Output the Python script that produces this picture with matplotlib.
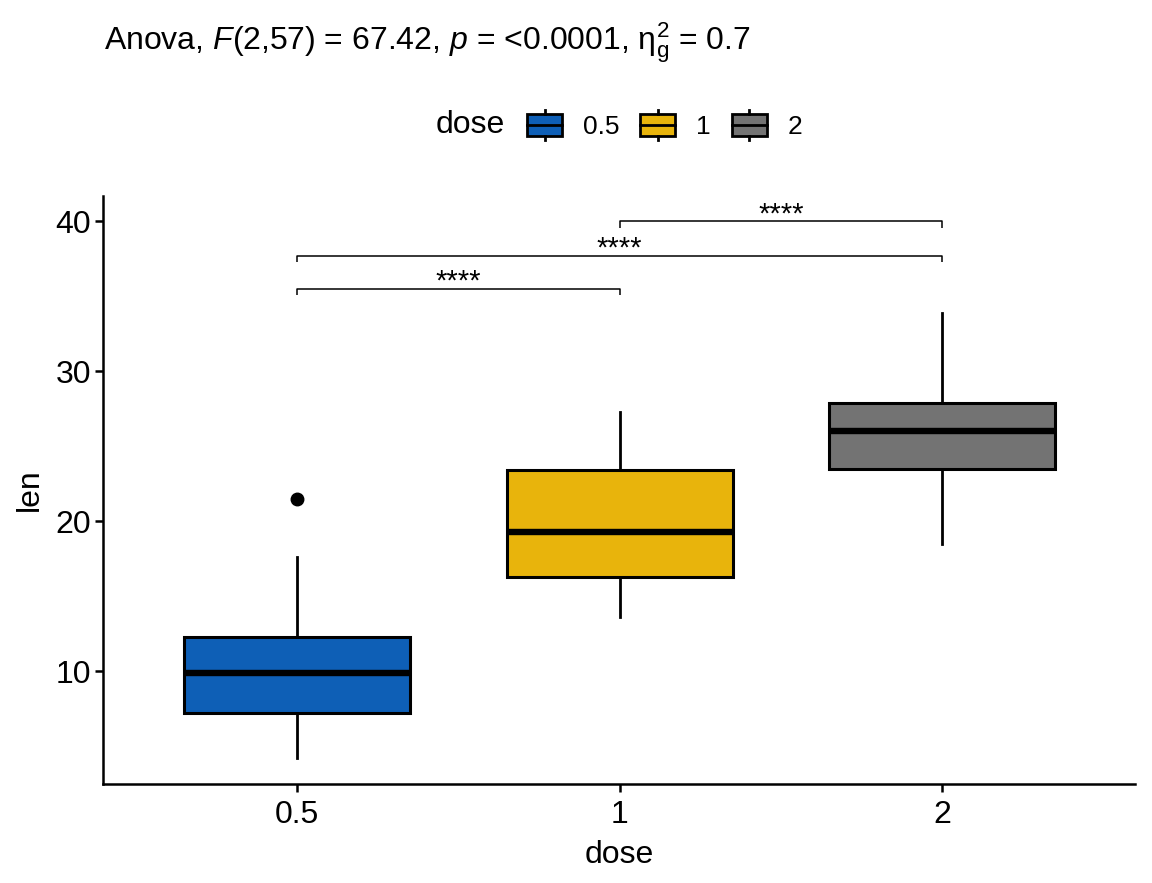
import matplotlib
matplotlib.use("Agg")
import matplotlib.pyplot as plt
from matplotlib.patches import Rectangle
from matplotlib.lines import Line2D
from matplotlib.legend_handler import HandlerBase

plt.rcParams['font.family'] = ['Liberation Sans', 'DejaVu Sans']
plt.rcParams['mathtext.fontset'] = 'custom'
plt.rcParams['mathtext.rm'] = 'Liberation Sans'
plt.rcParams['mathtext.it'] = 'Liberation Sans:italic'
plt.rcParams['mathtext.bf'] = 'Liberation Sans:bold'

# ---- data (ToothGrowth len by dose) ----
doses = ["0.5", "1", "2"]
whislo = [4.2, 13.6, 18.5]
q1 = [7.2, 16.3, 23.5]
med = [9.85, 19.25, 26.0]
q3 = [12.3, 23.4, 27.85]
whishi = [17.6, 27.3, 33.9]
fliers = [[21.5], [], []]
fill_colors = ["#0E5FB6", "#E8B40C", "#737373"]

comp_left = [0, 0, 1]
comp_right = [1, 2, 2]
comp_y = [35.5, 37.7, 40.0]
comp_labels = ["****", "****", "****"]

title_txt = (r"Anova, $\mathit{F}$(2,57) = 67.42, $\mathit{p}$ = <0.0001, "
             r"$\mathrm{\eta}_\mathrm{g}^\mathrm{2}$ = 0.7")

FS = 23

fig = plt.figure(figsize=(11.52, 8.83), dpi=100)
ax = fig.add_axes([103/1152, 1-784/883, (1135-103)/1152, (784-196)/883])

positions = [1, 2, 3]
stats = []
for i in range(len(doses)):
    stats.append(dict(whislo=whislo[i], q1=q1[i], med=med[i], q3=q3[i],
                      whishi=whishi[i], fliers=fliers[i], label=doses[i]))

bp = ax.bxp(stats, positions=positions, widths=0.7, patch_artist=True,
            showcaps=False,
            boxprops=dict(linewidth=2.2, edgecolor='black'),
            medianprops=dict(linewidth=4.6, color='black', solid_capstyle='butt'),
            whiskerprops=dict(linewidth=2.0, color='black'),
            flierprops=dict(marker='o', markersize=9, markerfacecolor='black',
                            markeredgecolor='black'))
for patch, c in zip(bp['boxes'], fill_colors):
    patch.set_facecolor(c)

# brackets
tip = 0.45
for l, r, yv, lab in zip(comp_left, comp_right, comp_y, comp_labels):
    x1, x2 = positions[l], positions[r]
    ax.plot([x1, x1, x2, x2], [yv - tip, yv, yv, yv - tip], color='black',
            linewidth=1.1, solid_capstyle='butt')
    ax.text((x1 + x2) / 2, yv - 0.5, lab, ha='center', va='bottom', fontsize=21)

ax.set_xlim(0.398, 3.598)
ax.set_ylim(2.47, 41.67)
ax.set_xticks(positions)
ax.set_xticklabels(doses)
ax.set_yticks([10, 20, 30, 40])
for s in ['top', 'right']:
    ax.spines[s].set_visible(False)
for s in ['left', 'bottom']:
    ax.spines[s].set_linewidth(1.8)
ax.tick_params(axis='both', length=5.5, width=1.8, labelsize=FS, pad=3, colors='black')
ax.tick_params(axis='x', pad=6)
ax.set_xlabel("dose", fontsize=FS, labelpad=7)
ax.set_ylabel("len", fontsize=FS, labelpad=8)

fig.text(104/1152, 1-43/883, title_txt, fontsize=FS, ha='left', va='center')

# legend
class BoxHandler(HandlerBase):
    def create_artists(self, legend, orig_handle, xdescent, ydescent,
                       width, height, fontsize, trans):
        x0, y0 = -xdescent, -ydescent
        stub = height * 0.13
        rect = Rectangle((x0, y0 + stub), width, height - 2 * stub,
                         facecolor=orig_handle.get_facecolor(),
                         edgecolor='black', linewidth=2.0, transform=trans)
        mid = Line2D([x0, x0 + width], [y0 + height / 2] * 2, color='black',
                     linewidth=2.0, transform=trans)
        cx = x0 + width / 2
        top = Line2D([cx, cx], [y0 + height - stub, y0 + height], color='black',
                     linewidth=2.0, transform=trans)
        bot = Line2D([cx, cx], [y0, y0 + stub], color='black',
                     linewidth=2.0, transform=trans)
        return [rect, mid, top, bot]

handles = [Rectangle((0, 0), 1, 1, facecolor=c) for c in fill_colors]
leg = fig.legend(handles, doses, handler_map={Rectangle: BoxHandler()},
                 ncol=3, loc='center left', bbox_to_anchor=(527/1152, 1-125/883),
                 frameon=False, fontsize=19, handlelength=1.33, handleheight=1.33,
                 handletextpad=0.8, columnspacing=0.78, borderpad=0, borderaxespad=0)
fig.text(505/1152, 1-125/883, "dose", fontsize=FS, ha='right', va='center')

fig.savefig("out.png", dpi=100)
